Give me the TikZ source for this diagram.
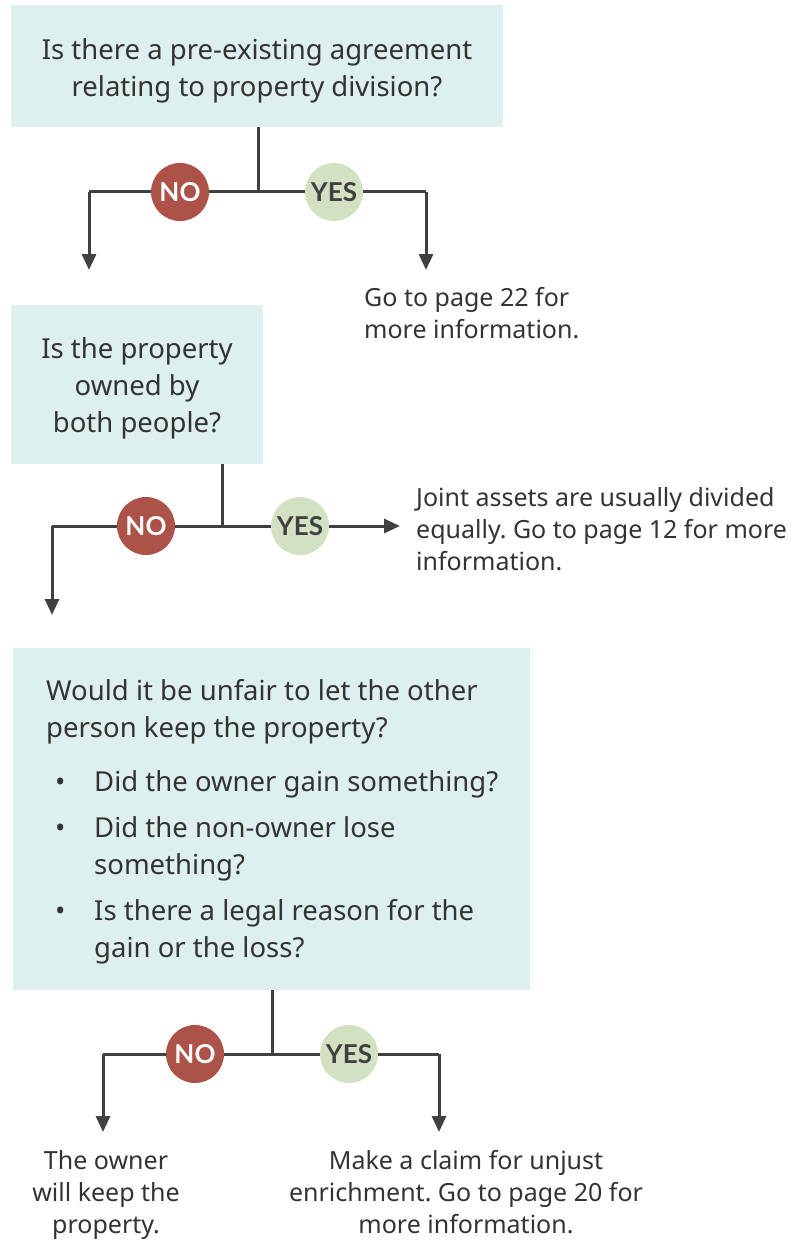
\documentclass[tikz,border=0pt]{standalone}
\usepackage{fontspec}
\setmainfont{Noto Sans}
\newfontfamily\bubfont{Lato}
\usetikzlibrary{arrows.meta}
\definecolor{boxfill}{HTML}{DDEFEE}
\definecolor{nored}{HTML}{AD5249}
\definecolor{yesgreen}{HTML}{D1E1C2}
\definecolor{linegray}{HTML}{404040}
\definecolor{txtgray}{HTML}{333333}
\frenchspacing
\begin{document}
\begin{tikzpicture}[x=1pt,y=-1pt,
  qbox/.style={fill=boxfill, draw=none, inner sep=0pt, text=txtgray,
    font=\fontsize{27.5}{37}\selectfont},
  note/.style={text=txtgray, inner sep=0pt, font=\fontsize{25}{32}\selectfont},
  nobub/.style={circle, fill=nored, minimum size=58pt, inner sep=0pt, text=white,
    font=\bubfont\bfseries\fontsize{26}{26}\selectfont},
  yesbub/.style={circle, fill=yesgreen, minimum size=58pt, inner sep=0pt, text=linegray,
    font=\bubfont\bfseries\fontsize{26}{26}\selectfont},
  conn/.style={draw=linegray, line width=3pt},
  arr/.style={conn, -{Triangle[width=14pt,length=16pt]}}
]
\useasboundingbox (0,0) rectangle (798,1241);

% ---- Box 1
\node[qbox, minimum width=492pt, minimum height=122pt] (q1) at (257,66) {};
\node[qbox, fill=none, align=center] (q1t) at (257,71)
  {Is there a pre-existing agreement\\relating to property division?};
\coordinate (j1) at (258,192);
\coordinate (l1) at (89,192);
\coordinate (r1) at (426,192);
\coordinate (l1e) at (89,270);
\coordinate (r1e) at (426,270);
\draw[conn] (q1.south -| j1) -- (j1);
\draw[conn] (l1) -- (r1);
\draw[arr] (l1) -- (l1e);
\draw[arr] (r1) -- (r1e);
\node[nobub] (no1) at (180,192) {NO};
\node[yesbub] (yes1) at (334,192) {YES};
\node[note, anchor=north west, align=left] (n1) at (364,287)
  {Go to page 22 for\\more information.};

% ---- Box 2
\node[qbox, minimum width=252pt, minimum height=159pt] (q2) at (137,384.5) {};
\node[qbox, fill=none, align=center] (q2t) at (137,388)
  {Is the property\\owned by\\both people?};
\coordinate (j2) at (222,526);
\coordinate (l2) at (52,526);
\coordinate (r2) at (400,526);
\coordinate (l2e) at (52,615);
\draw[conn] (q2.south -| j2) -- (j2);
\draw[conn] (l2) -- (j2);
\draw[arr] (j2) -- (r2);
\draw[arr] (l2) -- (l2e);
\node[nobub] (no2) at (146,526) {NO};
\node[yesbub] (yes2) at (300,526) {YES};
\node[note, anchor=north west, align=left] (n2) at (416,487)
  {Joint assets are usually divided\\equally. Go to page 12 for more\\information.};

% ---- Box 3
\node[qbox, minimum width=517pt, minimum height=342pt] (q3) at (271.5,819) {};
\node[qbox, fill=none, anchor=north west, align=left] (q3t) at (46,679.5)
  {Would it be unfair to let the other\\person keep the property?\\[17pt]
   \makebox[48pt][l]{\hspace{9pt}•}Did the owner gain something?\\[9pt]
   \makebox[48pt][l]{\hspace{9pt}•}Did the non-owner lose\\
   \hspace*{48pt}something?\\[9pt]
   \makebox[48pt][l]{\hspace{9pt}•}Is there a legal reason for the\\
   \hspace*{48pt}gain or the loss?};
\coordinate (j3) at (272,1054);
\coordinate (l3) at (103,1054);
\coordinate (r3) at (439,1054);
\coordinate (l3e) at (103,1132);
\coordinate (r3e) at (439,1132);
\draw[conn] (q3.south -| j3) -- (j3);
\draw[conn] (l3) -- (r3);
\draw[arr] (l3) -- (l3e);
\draw[arr] (r3) -- (r3e);
\node[nobub] (no3) at (195,1054) {NO};
\node[yesbub] (yes3) at (349,1054) {YES};
\node[note, anchor=north, align=center] (n3) at (106,1150)
  {The owner\\will keep the\\property.};
\node[note, anchor=north, align=center] (n4) at (466,1150)
  {Make a claim for unjust\\enrichment. Go to page 20 for\\more information.};
\end{tikzpicture}
\end{document}
